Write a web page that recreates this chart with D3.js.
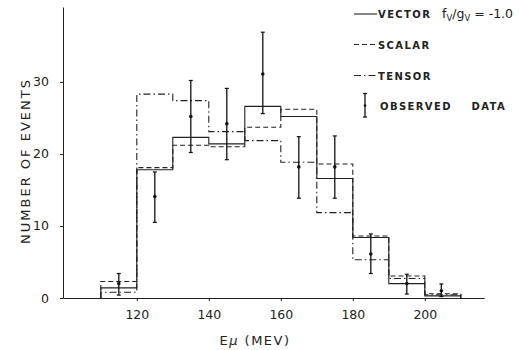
<!DOCTYPE html>
<html>
<head>
<meta charset="utf-8">
<script src="https://cdn.jsdelivr.net/npm/d3@7"></script>
<style>
  html, body { margin: 0; padding: 0; background: #fff; }
  svg { display: block; }
  .axis path, .axis line { stroke: #222; stroke-width: 1; }
  .axis text { font-family: "DejaVu Sans", sans-serif; font-size: 12.5px; fill: #222; }
  .hist { fill: none; stroke: #222; stroke-width: 1.1; }
  .legend-text { font-family: "DejaVu Sans", sans-serif; font-weight: bold; font-size: 10px; letter-spacing: 1.4px; fill: #222; }
  .axis-title { font-family: "DejaVu Sans", sans-serif; font-size: 13px; fill: #222; }
</style>
</head>
<body>
<div id="chart"></div>
<script>
const WIDTH = 519;
const HEIGHT = 350;

// bin lower edges (MeV), each bin 10 MeV wide
const binEdges = [110, 120, 130, 140, 150, 160, 170, 180, 190, 200];
const binWidth = 10;

const vectorCounts = [1.4, 17.8, 22.3, 21.4, 26.6, 25.2, 16.6, 8.4, 2.0, 0.3];
const scalarCounts = [2.3, 18.1, 21.2, 21.0, 23.7, 26.2, 18.6, 8.6, 3.05, 0.6];
const tensorCounts = [0.8, 28.3, 27.4, 23.1, 21.85, 18.85, 11.85, 5.3, 2.7, 0.45];

const observedEnergy = [115, 125, 135, 145, 155, 165, 175, 185, 195, 204.6];
const observedCounts = [2.0, 14.1, 25.2, 24.2, 31.1, 18.2, 18.2, 6.1, 2.0, 1.0];
const observedHigh = [3.4, 17.5, 30.2, 29.1, 36.9, 22.4, 22.5, 8.9, 3.3, 1.95];
const observedLow = [0.4, 10.5, 20.2, 19.2, 25.6, 13.85, 13.85, 3.4, 0.55, 0.2];

const xTicks = [120, 140, 160, 180, 200];
const yTicks = [0, 10, 20, 30];

const svg = d3.select("#chart")
  .append("svg")
  .attr("width", WIDTH)
  .attr("height", HEIGHT);

const x = d3.scaleLinear().domain([99.5, 216.5]).range([63, 484.2]);
const y = d3.scaleLinear().domain([0, 40.4]).range([298, 7]);

// axes
const xAxis = svg.append("g")
  .attr("class", "axis")
  .attr("transform", `translate(0,${y(0)})`)
  .call(d3.axisBottom(x).tickValues(xTicks).tickSize(3).tickSizeOuter(0).tickPadding(6));
xAxis.selectAll("text").attr("dy", "0.95em");

svg.append("g")
  .attr("class", "axis")
  .attr("transform", `translate(${x(99.5)},0)`)
  .call(d3.axisLeft(y).tickValues(yTicks).tickSize(3).tickSizeOuter(0).tickPadding(11));

// histograms
function histPoints(counts) {
  const pts = [[binEdges[0], 0]];
  counts.forEach((c, i) => pts.push([binEdges[i], c]));
  const last = binEdges[binEdges.length - 1] + binWidth;
  pts.push([last, counts[counts.length - 1]]);
  pts.push([last, 0]);
  return pts;
}

const stepLine = d3.line()
  .x(d => x(d[0]))
  .y(d => y(d[1]))
  .curve(d3.curveStepAfter);

const seriesDefs = [
  { counts: tensorCounts, dash: "7,3,1.5,3" },
  { counts: scalarCounts, dash: "5,3" },
  { counts: vectorCounts, dash: null }
];

seriesDefs.forEach(s => {
  svg.append("path")
    .attr("class", "hist")
    .attr("d", stepLine(histPoints(s.counts)))
    .attr("stroke-dasharray", s.dash);
});

// observed data with error bars
const obs = svg.append("g").attr("class", "observed");
observedEnergy.forEach((e, i) => {
  const cx = x(e);
  obs.append("line")
    .attr("x1", cx).attr("x2", cx)
    .attr("y1", y(observedHigh[i])).attr("y2", y(observedLow[i]))
    .attr("stroke", "#111").attr("stroke-width", 1.3);
  [observedHigh[i], observedLow[i]].forEach(v => {
    obs.append("line")
      .attr("x1", cx - 2).attr("x2", cx + 2)
      .attr("y1", y(v)).attr("y2", y(v))
      .attr("stroke", "#111").attr("stroke-width", 1.2);
  });
  obs.append("circle")
    .attr("cx", cx).attr("cy", y(observedCounts[i]))
    .attr("r", 1.8).attr("fill", "#111");
});

// legend
const legend = svg.append("g").attr("class", "legend");
const legendItems = [
  { label: "VECTOR", dash: null, y: 14 },
  { label: "SCALAR", dash: "5,3", y: 44.5 },
  { label: "TENSOR", dash: "7,3,1.5,3", y: 75.5 }
];
legendItems.forEach(item => {
  legend.append("line")
    .attr("x1", 354).attr("x2", 377)
    .attr("y1", item.y).attr("y2", item.y)
    .attr("stroke", "#222").attr("stroke-width", 1.1)
    .attr("stroke-dasharray", item.dash);
  legend.append("text")
    .attr("class", "legend-text")
    .attr("x", 378).attr("y", item.y + 4)
    .text(item.label);
});

const ratio = legend.append("text")
  .attr("x", 442).attr("y", 18)
  .attr("font-family", "DejaVu Sans, sans-serif")
  .attr("font-size", 12.5)
  .attr("fill", "#222");
ratio.append("tspan").text("f");
ratio.append("tspan").attr("font-size", 8.5).attr("dy", 3).text("V");
ratio.append("tspan").attr("dy", -3).text("/g");
ratio.append("tspan").attr("font-size", 8.5).attr("dy", 3).text("V");
ratio.append("tspan").attr("dy", -3).text(" = -1.0");

legend.append("line")
  .attr("x1", 365).attr("x2", 365).attr("y1", 93.5).attr("y2", 117)
  .attr("stroke", "#111").attr("stroke-width", 1.3);
[93.5, 117].forEach(v => {
  legend.append("line")
    .attr("x1", 363).attr("x2", 367).attr("y1", v).attr("y2", v)
    .attr("stroke", "#111").attr("stroke-width", 1.2);
});
legend.append("circle").attr("cx", 365).attr("cy", 105.5).attr("r", 1.3).attr("fill", "#111");
legend.append("text")
  .attr("class", "legend-text")
  .attr("x", 380).attr("y", 110)
  .attr("xml:space", "preserve")
  .text("OBSERVED    DATA");

// axis titles
svg.append("text")
  .attr("class", "axis-title")
  .attr("transform", "translate(30,161) rotate(-90)")
  .attr("text-anchor", "middle")
  .attr("letter-spacing", 2)
  .text("NUMBER  OF  EVENTS");

const xt = svg.append("text")
  .attr("class", "axis-title")
  .attr("x", 255).attr("y", 345)
  .attr("text-anchor", "middle")
  .attr("letter-spacing", 1.5);
xt.append("tspan").text("E");
xt.append("tspan").attr("font-style", "italic").text("μ");
xt.append("tspan").text("  (MEV)");
</script>
</body>
</html>
